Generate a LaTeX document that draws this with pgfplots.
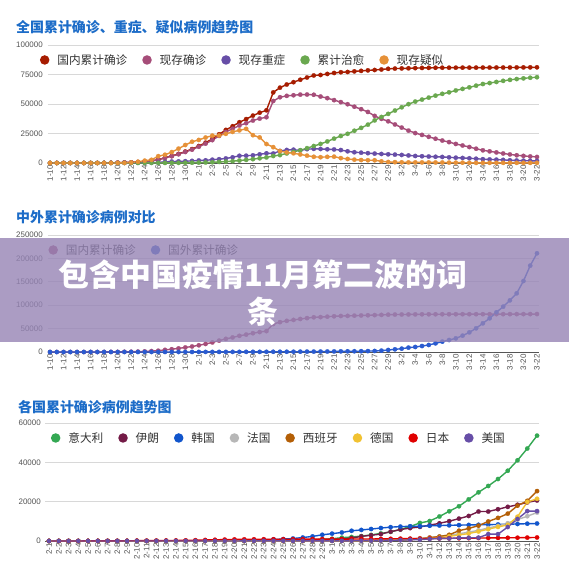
\documentclass[border=0pt]{standalone}
\usepackage{pgfplots}
\pgfplotsset{compat=1.18}
\usepackage{pgfplotstable}
\usepackage{fontspec}
\setmainfont{Liberation Sans}
\newfontfamily\cjk{Noto Sans CJK SC}

\definecolor{titleblue}{RGB}{28,108,200}
\definecolor{gridc}{RGB}{216,216,216}
\definecolor{basec}{RGB}{85,85,85}
\definecolor{tickc}{RGB}{85,85,85}
\definecolor{legc}{RGB}{51,51,51}
\definecolor{c1red}{HTML}{A61C00}
\definecolor{c1mag}{HTML}{A64D79}
\definecolor{c1pur}{HTML}{674EA7}
\definecolor{c1grn}{HTML}{6AA84F}
\definecolor{c1org}{HTML}{E69138}
\definecolor{c2blu}{HTML}{2A5BD0}
\definecolor{itc}{HTML}{34A853}
\definecolor{irc}{HTML}{741B47}
\definecolor{krc}{HTML}{1155CC}
\definecolor{frc}{HTML}{B7B7B7}
\definecolor{esc}{HTML}{B45F06}
\definecolor{dec}{HTML}{F1C232}
\definecolor{jpc}{HTML}{E00000}
\definecolor{usc}{HTML}{674EA7}
\definecolor{bannerc}{RGB}{150,132,181}

\pgfplotstableread{
idx cum cur sev cured susp fore
0 41 38 7 2 0 0
1 41 34 7 6 0 0
2 41 33 6 7 0 0
3 41 33 6 7 0 1
4 41 32 5 8 0 1
5 41 27 5 12 0 2
6 45 28 5 15 0 2
7 62 41 8 19 0 2
8 121 94 35 24 0 3
9 198 170 35 25 0 4
10 291 260 63 25 54 4
11 440 403 102 28 37 6
12 571 526 95 28 393 7
13 830 771 177 34 1072 10
14 1287 1208 237 38 1965 13
15 1975 1870 324 49 2684 30
16 2744 2613 461 51 5794 37
17 4515 4349 976 60 6973 46
18 5974 5739 1239 103 9239 56
19 7711 7417 1370 124 12167 68
20 9692 9308 1527 171 15238 82
21 11791 11289 1795 243 17988 106
22 14380 13748 2110 328 19544 132
23 17205 16369 2296 475 21558 146
24 20438 19381 2788 632 23214 153
25 24324 22942 3219 892 23260 159
26 28018 26302 3859 1153 24702 191
27 31161 28985 4821 1540 26359 216
28 34546 31774 6101 2050 27657 270
29 37198 33738 6188 2649 28942 288
30 40171 35982 6484 3281 23589 307
31 42638 37626 7333 3996 21675 319
32 44653 38800 8204 4740 16067 395
33 59804 52526 8030 5911 13435 441
34 63851 55748 10204 6723 10109 447
35 66492 56873 11053 8096 8969 505
36 68500 57416 11272 9419 8228 526
37 70548 57934 10644 10844 7264 683
38 72436 58016 11741 12552 6242 794
39 74185 57805 11977 14376 5248 804
40 74576 56303 11864 16155 4922 924
41 75465 54965 11633 18264 5206 1073
42 76288 53284 11477 20659 5365 1200
43 76936 51606 10968 22888 4148 1402
44 77150 49824 9915 24734 3434 1500
45 77658 47672 9126 27323 2824 1600
46 78064 45604 8752 29745 2491 1750
47 78497 43258 8346 32495 2358 1950
48 78824 39919 7952 36117 2308 2200
49 79251 37414 7664 39002 1418 2900
50 79824 35329 7365 41625 851 4300
51 80026 32652 7110 44462 715 5700
52 80151 30004 6806 47204 587 7100
53 80270 27433 6416 49856 520 9300
54 80409 25352 5952 52045 522 10700
55 80552 23784 5737 53726 482 12800
56 80651 22177 5489 55404 502 15000
57 80695 20533 5264 57065 458 18500
58 80735 19016 5111 58600 421 22100
59 80754 17721 4794 59897 349 25600
60 80778 16145 4492 61475 285 29200
61 80793 14831 4257 62793 253 34900
62 80813 13526 4020 64111 147 42000
63 80824 12094 3610 65541 115 50600
64 80844 10734 3226 66911 113 61300
65 80860 9898 3032 67749 134 72000
66 80881 8976 2830 68679 128 84800
67 80894 8056 2622 69601 119 96900
68 80928 7263 2314 70420 105 110400
69 80967 6569 2136 71150 104 125400
70 81008 6013 1963 71740 106 151700
71 81054 5549 1845 72244 118 184500
72 81093 5120 1749 72703 136 210900
}\tabA

\pgfplotstableread{
idx it ir kr fr es de jp us
0 2 0 12 6 1 5 20 8
1 2 0 15 6 1 7 20 8
2 2 0 15 6 1 8 20 11
3 2 0 16 6 1 10 20 11
4 2 0 19 6 1 12 33 11
5 2 0 23 6 1 12 45 11
6 3 0 24 6 1 13 86 11
7 3 0 24 6 1 13 90 11
8 3 0 25 11 1 14 96 11
9 3 0 27 11 2 14 161 12
10 3 0 28 11 2 16 163 13
11 3 0 28 11 2 16 203 13
12 3 0 28 11 2 16 251 15
13 3 0 28 11 2 16 259 15
14 3 0 28 12 2 16 338 15
15 3 0 29 12 2 16 414 15
16 3 0 30 12 2 16 520 15
17 3 0 31 12 2 16 616 15
18 3 0 31 12 2 16 705 15
19 3 2 104 12 2 16 799 15
20 3 5 204 12 2 16 829 35
21 20 18 433 12 2 16 856 35
22 79 28 602 12 2 16 877 35
23 157 43 833 12 2 16 891 35
24 229 61 977 12 2 16 904 53
25 323 95 1261 14 6 18 914 57
26 470 139 1766 18 13 21 926 60
27 655 245 2337 38 15 26 940 60
28 889 388 3150 57 32 53 947 62
29 1128 593 3736 100 45 66 961 70
30 1694 978 4335 130 84 117 980 88
31 2036 1501 5186 191 120 150 991 105
32 2502 2336 5621 212 165 188 1004 125
33 3089 2922 6088 285 222 240 1035 159
34 3858 3513 6593 423 259 400 1056 233
35 4636 4747 7041 653 400 639 1102 338
36 5883 5823 7314 949 500 795 1171 445
37 7375 6566 7478 1126 673 902 1190 572
38 9172 7161 7513 1412 1073 1139 1224 717
39 10149 8042 7755 1784 1695 1296 1268 1000
40 12462 9000 7869 2281 2277 1567 1333 1300
41 15113 10075 7979 2876 3146 2369 1383 1300
42 17660 11364 8086 3661 5232 3062 1411 1600
43 21157 12729 8162 4499 6391 3795 1456 1600
44 24747 14991 8236 5423 7798 4838 1518 1700
45 27980 14991 8320 6633 9942 6012 1549 3500
46 31506 16169 8413 7652 11748 7156 1580 3500
47 35713 17361 8565 9043 13910 8198 1620 7100
48 41035 18407 8652 10871 17963 12327 1660 11200
49 47021 19644 8799 12612 20410 19848 1720 15200
50 53578 20610 8897 14459 25374 21463 1800 15200
}\tabB

\pgfplotsset{
  base/.style={
    scale only axis, clip=false,
    scaled y ticks=false, scaled x ticks=false,
    axis line style={draw=none},
    major tick length=0pt,
    ymajorgrids, major grid style={draw=gridc, line width=0.7bp},
    tick label style={font=\fontsize{8}{9}\selectfont, text=tickc},
    xticklabel style={rotate=90, anchor=east, inner sep=2bp},
    yticklabel style={anchor=east, inner sep=0pt, xshift=-5bp},
    extra y ticks={0}, extra y tick labels={},
    extra y tick style={grid=major, major grid style={draw=basec, line width=0.9bp}},
    legend columns=-1,
    legend image code/.code={\fill (0bp,0bp) circle (4bp);},
    legend style={draw=none, fill=none, inner sep=0pt, outer sep=0pt, anchor=west,
      font=\cjk\fontsize{11.7}{13}\selectfont, text=legc,
      /tikz/every odd column/.append style={column sep=6bp},
      /tikz/every even column/.append style={column sep=13bp}},
    every axis plot/.append style={line width=1.4bp, mark=*, mark size=2.2bp, mark options={solid, line width=0.2bp}},
  }
}

\begin{document}
\begin{tikzpicture}
\path[use as bounding box, fill=white] (0,0) rectangle (569bp,581bp);

% ---------- chart 1 ----------
\node[anchor=west, inner sep=0pt, text=titleblue, font=\cjk\bfseries\fontsize{14}{16}\selectfont] at (16bp,554bp) {全国累计确诊、重症、疑似病例趋势图};
\begin{axis}[base, at={(48bp,418bp)}, anchor=south west, width=491bp, height=118bp,
  xmin=-0.3, xmax=72.3, ymin=0, ymax=100000,
  ytick={0,25000,50000,75000,100000}, yticklabels={0,25000,50000,75000,100000},
  xtick={0,2,...,72},
  xticklabels={1-10,1-12,1-14,1-16,1-18,1-20,1-22,1-24,1-26,1-28,1-30,2-1,2-3,2-5,2-7,2-9,2-11,2-13,2-15,2-17,2-19,2-21,2-23,2-25,2-27,2-29,3-2,3-4,3-6,3-8,3-10,3-12,3-14,3-16,3-18,3-20,3-22},
  legend style={at={(-0.0163,0.873)}}]
\addplot[c1red] table[x=idx,y=cum]{\tabA}; \addlegendentry{国内累计确诊}
\addplot[c1mag] table[x=idx,y=cur]{\tabA}; \addlegendentry{现存确诊}
\addplot[c1pur] table[x=idx,y=sev]{\tabA}; \addlegendentry{现存重症}
\addplot[c1grn] table[x=idx,y=cured]{\tabA}; \addlegendentry{累计治愈}
\addplot[c1org] table[x=idx,y=susp]{\tabA}; \addlegendentry{现存疑似}
\end{axis}

% ---------- chart 2 ----------
\node[anchor=west, inner sep=0pt, text=titleblue, font=\cjk\bfseries\fontsize{14}{16}\selectfont] at (16bp,364bp) {中外累计确诊病例对比};
\begin{axis}[base, at={(48bp,229bp)}, anchor=south west, width=491bp, height=117bp,
  xmin=-0.3, xmax=72.3, ymin=0, ymax=250000,
  ytick={0,50000,100000,150000,200000,250000}, yticklabels={0,50000,100000,150000,200000,250000},
  xtick={0,2,...,72},
  xticklabels={1-10,1-12,1-14,1-16,1-18,1-20,1-22,1-24,1-26,1-28,1-30,2-1,2-3,2-5,2-7,2-9,2-11,2-13,2-15,2-17,2-19,2-21,2-23,2-25,2-27,2-29,3-2,3-4,3-6,3-8,3-10,3-12,3-14,3-16,3-18,3-20,3-22},
  legend style={at={(0.001,0.872)}}]
\addplot[c1mag] table[x=idx,y=cum]{\tabA}; \addlegendentry{国内累计确诊}
\addplot[c2blu] table[x=idx,y=fore]{\tabA}; \addlegendentry{国外累计确诊}
\end{axis}

% ---------- chart 3 ----------
\node[anchor=west, inner sep=0pt, text=titleblue, font=\cjk\bfseries\fontsize{14}{16}\selectfont] at (18bp,174bp) {各国累计确诊病例趋势图};
\begin{axis}[base, at={(45bp,40bp)}, anchor=south west, width=494bp, height=118bp,
  xmin=-0.41, xmax=50.2, ymin=0, ymax=60000,
  ytick={0,20000,40000,60000}, yticklabels={0,20000,40000,60000},
  yticklabel style={xshift=1bp},
  xtick={0,1,...,50},
  xticklabels={2-1,2-2,2-3,2-4,2-5,2-6,2-7,2-8,2-9,2-10,2-11,2-12,2-13,2-14,2-15,2-16,2-17,2-18,2-19,2-20,2-21,2-22,2-23,2-24,2-25,2-26,2-27,2-28,2-29,3-1,3-2,3-3,3-4,3-5,3-6,3-7,3-8,3-9,3-10,3-11,3-12,3-13,3-14,3-15,3-16,3-17,3-18,3-19,3-20,3-21,3-22},
  legend style={at={(0.0121,0.873)}}]
\addplot[itc] table[x=idx,y=it]{\tabB}; \addlegendentry{意大利}
\addplot[irc] table[x=idx,y=ir]{\tabB}; \addlegendentry{伊朗}
\addplot[krc] table[x=idx,y=kr]{\tabB}; \addlegendentry{韩国}
\addplot[frc] table[x=idx,y=fr]{\tabB}; \addlegendentry{法国}
\addplot[esc] table[x=idx,y=es]{\tabB}; \addlegendentry{西班牙}
\addplot[dec] table[x=idx,y=de]{\tabB}; \addlegendentry{德国}
\addplot[jpc] table[x=idx,y=jp]{\tabB}; \addlegendentry{日本}
\addplot[usc] table[x=idx,y=us]{\tabB}; \addlegendentry{美国}
\end{axis}

% ---------- banner ----------
\fill[bannerc, opacity=0.8] (0bp,239bp) rectangle (569bp,343bp);
\node[text=white, inner sep=0pt, font=\cjk\bfseries\fontsize{31}{37}\selectfont] at (263bp,306bp) {包含中国疫情11月第二波的词};
\node[text=white, inner sep=0pt, font=\cjk\bfseries\fontsize{31}{37}\selectfont] at (263bp,269bp) {条};
\end{tikzpicture}
\end{document}
